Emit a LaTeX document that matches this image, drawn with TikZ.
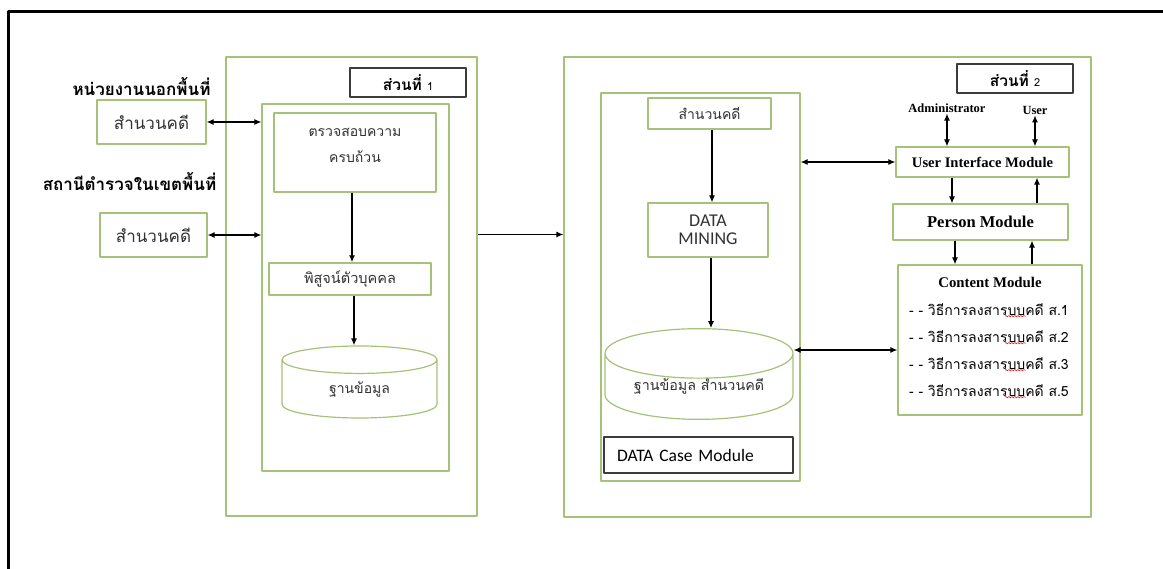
\documentclass[tikz,border=0pt]{standalone}
\usepackage{fontspec}
\setmainfont{Liberation Serif}
\newfontfamily\thaifont[Script=Thai]{Loma}
\newfontfamily\calfont{Carlito}
\usetikzlibrary{arrows.meta,positioning,shapes.geometric,calc,decorations.pathmorphing}

\definecolor{boxgreen}{RGB}{165,195,120}
\definecolor{tagedge}{RGB}{60,60,60}
\definecolor{thaigray}{RGB}{50,50,50}

\tikzset{
  greenbox/.style={draw=boxgreen, line width=1.3pt, fill=white, inner sep=0pt,
    text=thaigray, font=\thaifont\fontsize{14.5}{17}\selectfont},
  smallbox/.style={greenbox, font=\thaifont\fontsize{14}{16}\selectfont},
  tagbox/.style={draw=tagedge, line width=1.6pt, fill=white, inner sep=0pt,
    minimum width=116, minimum height=29, font=\thaifont\fontsize{15.5}{18}\selectfont},
  dbcyl/.style={cylinder, shape border rotate=90, draw=boxgreen, line width=1.2pt,
    fill=white, inner sep=0pt, text=thaigray, anchor=shape center},
  headtxt/.style={inner sep=1pt, font=\thaifont\bfseries\fontsize{17}{20}\selectfont},
  modbox/.style={greenbox, font=\bfseries\fontsize{14.6}{17}\selectfont, text=black},
  actor/.style={inner sep=1pt, font=\bfseries\fontsize{12.5}{14}\selectfont},
  itemtxt/.style={inner sep=0pt, font=\thaifont\fontsize{14}{16}\selectfont},
  flow/.style={-{Latex[length=7pt,width=6pt]}, line width=1.1pt},
  flowthick/.style={-{Latex[length=7pt,width=6pt]}, line width=2.2pt},
  twoway/.style={{Latex[length=7pt,width=6pt]}-{Latex[length=7pt,width=6pt]}, line width=1.1pt},
  spellred/.style={red!85!black, line width=0.5pt,
    decorate, decoration={snake, segment length=3pt, amplitude=0.7pt}}
}

\begin{document}
\begin{tikzpicture}[x=1pt, y=-1pt, line join=round]
  \useasboundingbox (0,0) rectangle (1163,569);

  % ---- outer frame (cut off at right and bottom) ----
  \draw[line width=3pt] (8,569) -- (8,12) -- (1163,12);

  % ---- offices outside the system ----
  \node[headtxt] (headout) at (141.5,87) {หน่วยงานนอกพื้นที่};
  \node[greenbox, minimum width=109, minimum height=44, font=\thaifont\fontsize{17}{20}\selectfont]
    (src1) at (151.5,122) {สำนวนคดี};
  \node[headtxt] (headpol) at (129.5,182) {สถานีตำรวจในเขตพื้นที่};
  \node[greenbox, minimum width=107, minimum height=44, font=\thaifont\fontsize{17}{20}\selectfont]
    (src2) at (153.5,235) {สำนวนคดี};

  % ---- part 1 ----
  \node[greenbox, minimum width=251, minimum height=459] (part1) at (351.5,286.5) {};
  \node[greenbox, minimum width=187, minimum height=367] (part1in) at (355.5,287.5) {};
  \node[tagbox] (tag1) at (408,82.5) {{\bfseries ส่วนที่}\ {\fontsize{11}{13}\selectfont 1}};
  \node[greenbox, minimum width=162, minimum height=79, font=\thaifont\fontsize{14}{16}\selectfont]
    (check) at (355,152.5)
    {\raisebox{6pt}[\height][\depth]{\begin{tabular}{@{}c@{}}ตรวจสอบความ\\[9pt]ครบถ้วน\end{tabular}}};
  \node[greenbox, minimum width=162, minimum height=32] (ident) at (350,279) {พิสูจน์ตัวบุคคล};
  \node[dbcyl, aspect=0.45, minimum width=155, minimum height=72,
    font=\thaifont\fontsize{14}{16}\selectfont] (db1) at (359.5,382) {ฐานข้อมูล};

  \draw[twoway] (src1.east) -- (src1.east -| part1in.west);
  \draw[twoway] (src2.east) -- (src2.east -| part1in.west);
  \draw[flowthick] ([xshift=-3pt]check.south) -- ([xshift=-3pt]check.south |- ident.north);
  \draw[flowthick] ([xshift=4pt]ident.south) -- ([xshift=4pt]ident.south |- db1.north);

  % ---- part 2 ----
  \node[greenbox, minimum width=527, minimum height=460] (part2) at (827.5,287) {};
  \node[tagbox] (tag2) at (1015,78.5) {{\bfseries ส่วนที่}\ {\fontsize{11}{13}\selectfont 2}};
  \draw[flow] ([yshift=52pt]part1.east) -- ([yshift=52pt]part1.east -| part2.west);

  % data case module (left column)
  \node[greenbox, minimum width=199, minimum height=388] (datain) at (700.5,287) {};
  \node[smallbox, minimum width=123, minimum height=31] (case2) at (709.5,113.5) {สำนวนคดี};
  \node[greenbox, minimum width=120, minimum height=54, align=center,
    font=\calfont\fontsize{18}{18}\selectfont] (mining) at (708,230) {DATA\\MINING};
  \node[dbcyl, aspect=0.38, minimum width=188, minimum height=86,
    font=\thaifont\fontsize{14.3}{16}\selectfont] (db2) at (699,374) {ฐานข้อมูล สำนวนคดี};
  \node[draw=tagedge, line width=1.3pt, fill=white, minimum width=189, minimum height=36,
    inner sep=0pt, text width=163, align=left, font=\calfont\fontsize{17.5}{20}\selectfont]
    (casemod) at (698.5,455) {DATA Case Module};

  \draw[flow] ([xshift=2.5pt]case2.south) -- ([xshift=2.5pt]case2.south |- mining.north);
  \draw[flow] ([xshift=3pt]mining.south) -- ([xshift=3pt]mining.south |- db2.north);

  % modules (right column)
  \node[actor] (admin) at (947,108) {Administrator};
  \node[actor] (user) at (1035,110) {User};
  \node[modbox, minimum width=173, minimum height=30] (uim) at (982.5,162) {User Interface Module};
  \node[modbox, minimum width=175, minimum height=36, font=\bfseries\fontsize{16.5}{19}\selectfont]
    (person) at (980.5,222) {Person Module};
  \node[greenbox, minimum width=184, minimum height=150] (content) at (990,340) {};
  \node[inner sep=0pt, font=\bfseries\fontsize{14.8}{17}\selectfont] (ctitle) at (990,282) {Content Module};
  \foreach \i/\n/\y in {1/1/310, 2/2/337, 3/3/364, 4/5/391} {
    \node[itemtxt, anchor=west] (item\i) at (909,\y) {- - วิธีการลงสารบบคดี ส.\n};
    \draw[spellred] ($(item\i.south west)!0.60!(item\i.south east)$)
      -- ($(item\i.south west)!0.73!(item\i.south east)$);
  }

  \draw[twoway] (admin.south) -- (admin.south |- uim.north);
  \draw[twoway] (user.south) -- (user.south |- uim.north);
  \draw[flow] ([xshift=-30.5pt]uim.south) -- ([xshift=-30.5pt]uim.south |- person.north);
  \draw[flow] ([xshift=56.5pt]person.north) -- ([xshift=56.5pt]person.north |- uim.south);
  \draw[flow] ([xshift=-25.5pt]person.south) -- ([xshift=-25.5pt]person.south |- content.north);
  \draw[flow] ([xshift=42pt]content.north) -- ([xshift=42pt]content.north |- person.south);
  \draw[twoway] (uim.west) -- (uim.west -| datain.east);
  \draw[twoway] ([yshift=-10pt]content.west) -- ([yshift=-10pt]content.west -| db2.east);
\end{tikzpicture}
\end{document}
